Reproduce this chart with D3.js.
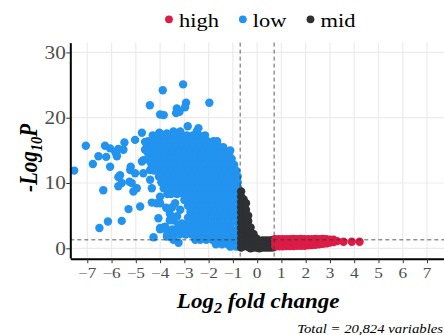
<!DOCTYPE html>
<html>
<head>
<meta charset="utf-8">
<script src="https://cdn.jsdelivr.net/npm/d3@7"></script>
<style>
  body { margin: 0; background: #fff; }
</style>
</head>
<body>
<script>
// groups shown in the legend
const groups = ['high', 'low', 'mid'];
const groupColors = { high: '#DC1C46', low: '#2293EE', mid: '#2E3033' };

// axis ticks
const xTicks = [-7, -6, -5, -4, -3, -2, -1, 0, 1, 2, 3, 4, 5, 6, 7];
const yTicks = [0, 10, 20, 30];

// cut-offs (dashed lines)
const fcCutoff = [-0.7, 0.7];
const pCutoff = 1.3;

// "low" points scattered outside the dense cloud: [log2FC, -log10P]
const lowPoints = [
  [-4.42,21.9],[-3.89,24.2],[-3.05,25.1],[-2.93,22.3],[-1.97,22.3],[-3.31,21.4],[-2.97,21.6],
  [-4.0,20.5],[-3.85,20.4],[-3.34,20.7],[-3.2,20.9],[-2.86,18.7],[-2.42,18.4],[-2.49,17.9],
  [-3.45,17.9],[-3.17,17.9],[-4.0,17.6],[-3.72,17.6],[-1.8,16.3],[-1.6,15.6],[-1.11,15.0],
  [-4.75,17.7],[-4.03,17.7],[-5.03,16.6],[-5.47,16.2],[-7.06,15.7],[-6.27,15.7],[-6.06,15.3],
  [-5.85,14.8],[-5.51,15.1],[-5.72,15.2],[-5.81,14.5],[-6.54,14.1],[-6.22,14.0],[-5.78,14.1],
  [-6.77,12.9],[-6.06,12.5],[-5.21,12.5],[-7.54,11.9],[-4.75,13.3],
  [-6.34,8.9],[-5.65,11.2],[-5.58,10.0],[-5.26,10.2],[-5.03,11.5],[-5.1,8.7],[-5.72,10.9],
  [-5.72,9.5],[-5.23,12.0],[-5.17,10.0],[-4.96,9.2],
  [-4.82,6.4],[-5.3,6.0],[-5.58,4.2],[-6.15,4.1],[-6.5,3.1],
  [-4.69,11.5],[-4.41,10.5],[-4.34,9.2],[-4.41,12.0],[-4.0,7.9],[-4.34,7.0],[-4.0,6.9],
  [-4.14,6.9],[-4.07,4.6],[-4.0,3.1],[-3.86,3.2],[-3.79,3.3],[-4.27,1.7],[-3.72,1.8],
  [-3.59,1.8],[-3.45,1.3],[-3.24,0.86],
  [-4.62,16.3],[-4.41,16.3],[-4.62,15.1],[-4.41,14.5],[-4.69,13.5],[-4.41,13.3],[-4.0,14.0],[-4.13,15.1],
  [-3.45,4.3],[-3.17,5.9],[-3.38,6.9],[-3.6,5.3],[-3.25,3.6],[-3.75,6.2],[-3.5,6.3],[-3.3,4.9],[-3.6,4.3]
];

// dense part of the "low" cloud, read row by row: [-log10P, [log2FC...]]
const lowDense = [
  [17.3, [-4.3,-4.1,-3.9,-3.65,-3.4,-3.15,-2.9,-2.65,-2.4,-2.15]],
  [16.4, [-4.5,-4.3,-4.05,-3.8,-3.55,-3.3,-3.05,-2.8,-2.55,-2.3,-2.05,-1.8,-1.65]],
  [15.5, [-4.55,-4.35,-4.1,-3.85,-3.6,-3.35,-3.1,-2.85,-2.6,-2.35,-2.1,-1.85,-1.6,-1.4]],
  [14.6, [-4.5,-4.25,-4.0,-3.75,-3.5,-3.25,-3.0,-2.75,-2.5,-2.25,-2.0,-1.75,-1.5,-1.25,-1.15]],
  [13.7, [-4.5,-4.3,-4.05,-3.8,-3.55,-3.3,-3.05,-2.8,-2.55,-2.3,-2.05,-1.8,-1.55,-1.3,-1.05]],
  [12.8, [-4.35,-4.15,-3.9,-3.65,-3.4,-3.15,-2.9,-2.65,-2.4,-2.15,-1.9,-1.65,-1.4,-1.15,-0.95]],
  [11.9, [-4.25,-4.05,-3.8,-3.55,-3.3,-3.05,-2.8,-2.55,-2.3,-2.05,-1.8,-1.55,-1.3,-1.05,-0.87]],
  [11.0, [-4.05,-3.95,-3.7,-3.45,-3.2,-2.95,-2.7,-2.45,-2.2,-1.95,-1.7,-1.45,-1.2,-0.95,-0.8]],
  [10.1, [-3.95,-3.8,-3.55,-3.3,-3.05,-2.8,-2.55,-2.3,-2.05,-1.8,-1.55,-1.3,-1.05,-0.8]],
  [9.2,  [-3.85,-3.7,-3.45,-3.2,-2.95,-2.7,-2.45,-2.2,-1.95,-1.7,-1.45,-1.2,-0.95,-0.78]],
  [8.3,  [-3.7,-3.55,-3.3,-3.05,-2.8,-2.55,-2.3,-2.05,-1.8,-1.55,-1.3,-1.05,-0.8]],
  [7.4,  [-3.0,-2.75,-2.5,-2.25,-2.0,-1.75,-1.5,-1.25,-1.0,-0.78]],
  [6.5,  [-2.85,-2.6,-2.35,-2.1,-1.85,-1.6,-1.35,-1.1,-0.85]],
  [5.6,  [-2.75,-2.5,-2.25,-2.0,-1.75,-1.5,-1.25,-1.0,-0.78]],
  [4.7,  [-2.85,-2.6,-2.35,-2.1,-1.85,-1.6,-1.35,-1.1,-0.85]],
  [3.8,  [-3.1,-2.85,-2.6,-2.35,-2.1,-1.85,-1.6,-1.35,-1.1,-0.8]],
  [2.9,  [-4.0,-3.75,-3.5,-3.3,-3.05,-2.8,-2.55,-2.3,-2.05,-1.8,-1.55,-1.3,-1.05,-0.8]],
  [2.1,  [-3.7,-3.45,-3.2,-2.95,-2.7,-2.45,-2.2,-1.95,-1.7,-1.45,-1.2,-0.95,-0.78]],
  [1.3,  [-2.55,-2.35,-2.1,-1.85,-1.6,-1.35,-1.1,-0.85]],
  [0.6,  [-1.7,-1.45,-1.2,-0.95,-0.78]],
  [0.25, [-1.1,-0.85]]
];

// "mid" points, read column by column: [log2FC, [-log10P...]]
const midCols = [
  [-0.66, [8.7,7.9,7.1,6.3,5.5,4.7,3.9,3.1,2.3,1.5,0.8,0.1]],
  [-0.56, [7.5,6.7,5.9,5.1,4.3,3.5,2.7,1.9,1.1,0.3]],
  [-0.46, [6.9,5.9,5.2,4.4,3.6,2.8,2.0,1.2,0.4]],
  [-0.37, [5.0,4.2,3.4,2.6,1.8,1.0,0.2]],
  [-0.27, [3.2,2.4,1.6,0.8,0.0]],
  [-0.15, [2.2,1.5,0.8,0.1]],
  [-0.03, [1.5,0.8,0.1]],
  [0.09,  [1.1,0.5,0.0]],
  [0.21,  [1.2,0.65,0.1]],
  [0.33,  [1.2,0.65,0.1]],
  [0.45,  [1.2,0.65,0.1]],
  [0.57,  [1.2,0.65,0.1]],
  [0.67,  [1.3,0.7,0.15]]
];

// "high" points, read column by column: [log2FC, [-log10P...]]
const highCols = [
  [0.75, [0.3,0.85,1.4]], [0.9, [0.3,0.85,1.4]], [1.05, [0.3,0.85,1.4]], [1.2, [0.35,0.85,1.4]],
  [1.35, [0.35,0.9,1.4]], [1.5, [0.35,0.9,1.45]], [1.65, [0.4,0.9,1.4]], [1.8, [0.4,0.9,1.45]],
  [1.95, [0.4,0.9,1.4]], [2.1, [0.45,0.95,1.4]], [2.25, [0.5,0.95,1.4]], [2.4, [0.55,1.0,1.45]],
  [2.55, [0.6,1.0,1.4]], [2.7, [0.7,1.1,1.45]], [2.85, [0.75,1.2,1.4]], [3.0, [0.9,1.3]],
  [3.15, [0.95,1.3]], [3.3, [1.1]], [3.56, [1.0]], [3.9, [1.0]], [4.22, [1.0]]
];

const captionText = 'Total = 20,824 variables';

const width = 444;
const height = 335;
const SX = 1.15; // the reference text is slightly wider than tall
const serif = '"Liberation Serif", "Times New Roman", serif';

const svg = d3.select('body').append('svg')
  .attr('width', width)
  .attr('height', height)
  .style('font-family', serif);

svg.append('rect').attr('width', width).attr('height', height).attr('fill', '#fff');

const xScale = d3.scaleLinear().domain([-7.7, 7.7]).range([70.3, 444]);
const yScale = d3.scaleLinear().domain([-1.5, 31.5]).range([258.1, 42.6]);
const [x0, x1] = xScale.range();
const [y0, y1] = yScale.range();

// grid
const grid = svg.append('g').attr('stroke', '#EBEBEB').attr('stroke-width', 1.2);
grid.selectAll('.gx').data(xTicks).join('line')
  .attr('x1', d => xScale(d)).attr('x2', d => xScale(d))
  .attr('y1', y1).attr('y2', y0);
grid.selectAll('.gy').data(yTicks).join('line')
  .attr('x1', x0).attr('x2', x1)
  .attr('y1', d => yScale(d)).attr('y2', d => yScale(d));

// points
const lowAll = lowPoints.concat(lowDense.flatMap(([yv, xs]) => xs.map(xv => [xv, yv])));
const midAll = midCols.flatMap(([xv, ys]) => ys.map(yv => [xv, yv]));
const highAll = highCols.flatMap(([xv, ys]) => ys.map(yv => [xv, yv]));

function drawPoints(data, color) {
  svg.append('g').selectAll('circle').data(data).join('circle')
    .attr('cx', d => xScale(d[0]))
    .attr('cy', d => yScale(d[1]))
    .attr('r', 4.2)
    .attr('fill', color);
}
drawPoints(lowAll, groupColors.low);
drawPoints(midAll, groupColors.mid);
drawPoints(highAll, groupColors.high);

// cut-off lines
const cut = svg.append('g').attr('stroke', '#333').attr('stroke-width', 0.8).attr('stroke-dasharray', '4,3');
cut.selectAll('line.v').data(fcCutoff).join('line')
  .attr('x1', d => xScale(d)).attr('x2', d => xScale(d))
  .attr('y1', y1).attr('y2', y0);
cut.append('line')
  .attr('x1', x0).attr('x2', x1)
  .attr('y1', yScale(pCutoff)).attr('y2', yScale(pCutoff));

// axes
const xAxis = svg.append('g')
  .attr('transform', `translate(0,${y0 + 0.6})`)
  .call(d3.axisBottom(xScale).tickValues(xTicks).tickSize(4.5).tickSizeOuter(0).tickFormat(''));
const yAxis = svg.append('g')
  .attr('transform', `translate(${x0},0)`)
  .call(d3.axisLeft(yScale).tickValues(yTicks).tickSize(4).tickSizeOuter(0).tickFormat(''));
[xAxis, yAxis].forEach(a => {
  a.select('.domain').attr('stroke', '#000').attr('stroke-width', 2);
  a.selectAll('.tick line').attr('stroke', '#333').attr('stroke-width', 1);
});

function stretched(px, py, rot) {
  return `translate(${px},${py}) scale(${SX},1)` + (rot ? ` rotate(${rot})` : '');
}

const fmt = d3.format('d');
svg.append('g').selectAll('text').data(xTicks).join('text')
  .attr('transform', d => stretched(xScale(d), 277.6))
  .attr('text-anchor', 'middle')
  .attr('font-size', 15)
  .attr('fill', '#4D4D4D')
  .text(d => fmt(d));

svg.append('g').selectAll('text').data(yTicks).join('text')
  .attr('transform', d => stretched(65.8, yScale(d) + 6.2))
  .attr('text-anchor', 'end')
  .attr('font-size', 18.5)
  .attr('fill', '#4D4D4D')
  .text(d => fmt(d));

// axis titles
const xt = svg.append('text')
  .attr('transform', stretched((x0 + x1) / 2 + 1, 308))
  .attr('text-anchor', 'middle')
  .attr('font-size', 20).attr('font-weight', 'bold').attr('font-style', 'italic');
xt.append('tspan').text('Log');
xt.append('tspan').attr('font-size', 14).attr('dy', 5).text('2');
xt.append('tspan').attr('dy', -5).text(' fold change');

const yt = svg.append('text')
  .attr('transform', stretched(36.5, 158, -90))
  .attr('text-anchor', 'middle')
  .attr('font-size', 21).attr('font-weight', 'bold').attr('font-style', 'italic');
yt.append('tspan').text('-Log');
yt.append('tspan').attr('font-size', 14.5).attr('dy', 5).text('10');
yt.append('tspan').attr('dy', -5).text('P');

// caption, kept just inside the right edge
svg.append('text')
  .attr('transform', stretched(443, 333))
  .attr('text-anchor', 'end')
  .attr('font-size', 12.8).attr('font-style', 'italic')
  .attr('fill', '#000')
  .text(captionText);

// legend
let lx = 169;
groups.forEach(g => {
  svg.append('circle').attr('cx', lx).attr('cy', 19.3).attr('r', 3.9).attr('fill', groupColors[g]);
  const t = svg.append('text')
    .attr('transform', stretched(lx + 10, 26.7))
    .attr('font-size', 19.5)
    .attr('fill', '#000')
    .text(g);
  lx += 10 + t.node().getComputedTextLength() * SX + 24;
});
</script>
</body>
</html>
